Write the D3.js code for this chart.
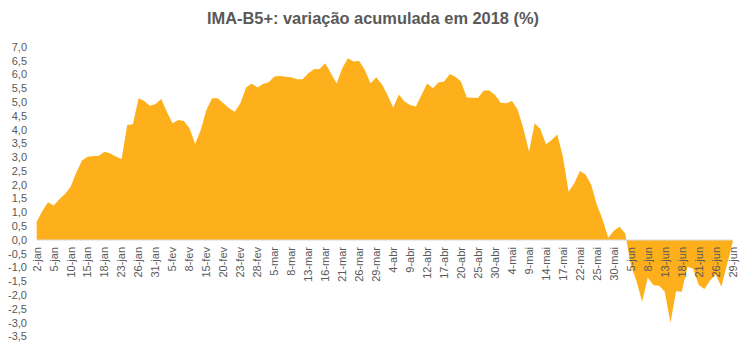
<!DOCTYPE html>
<html lang="pt">
<head>
<meta charset="UTF-8">
<title>IMA-B5+</title>
<script src="https://cdn.jsdelivr.net/npm/d3@7"></script>
<style>
  body { margin: 0; background: #fff; }
  text { font-family: "Liberation Sans", Arial, sans-serif; fill: #595959; }
</style>
</head>
<body>
<svg width="747" height="353"></svg>
<script>
// dias úteis de 2018 (jan-jun)
var dates = [
  '2-jan','3-jan','4-jan','5-jan','8-jan','9-jan','10-jan','11-jan','12-jan','15-jan','16-jan','17-jan','18-jan','19-jan','22-jan','23-jan','24-jan','25-jan','26-jan','29-jan','30-jan','31-jan',
  '1-fev','2-fev','5-fev','6-fev','7-fev','8-fev','9-fev','14-fev','15-fev','16-fev','19-fev','20-fev','21-fev','22-fev','23-fev','26-fev','27-fev','28-fev',
  '1-mar','2-mar','5-mar','6-mar','7-mar','8-mar','9-mar','12-mar','13-mar','14-mar','15-mar','16-mar','19-mar','20-mar','21-mar','22-mar','23-mar','26-mar','27-mar','28-mar','29-mar',
  '2-abr','3-abr','4-abr','5-abr','6-abr','9-abr','10-abr','11-abr','12-abr','13-abr','16-abr','17-abr','18-abr','19-abr','20-abr','23-abr','24-abr','25-abr','26-abr','27-abr','30-abr',
  '2-mai','3-mai','4-mai','7-mai','8-mai','9-mai','10-mai','11-mai','14-mai','15-mai','16-mai','17-mai','18-mai','21-mai','22-mai','23-mai','24-mai','25-mai','28-mai','29-mai','30-mai',
  '1-jun','4-jun','5-jun','6-jun','7-jun','8-jun','11-jun','12-jun','13-jun','14-jun','15-jun','18-jun','19-jun','20-jun','21-jun','22-jun','25-jun','26-jun','27-jun','28-jun','29-jun'
];

// variação acumulada (%)
var values = [
  0.66,1.05,1.37,1.25,1.48,1.67,1.93,2.45,2.88,3.02,3.05,3.06,3.20,3.14,3.03,2.93,4.17,4.20,5.14,5.04,4.87,4.93,
  5.11,4.65,4.23,4.35,4.32,4.05,3.48,4.00,4.72,5.14,5.14,4.96,4.78,4.65,4.96,5.53,5.68,5.53,
  5.66,5.72,5.93,5.95,5.92,5.90,5.83,5.83,6.05,6.19,6.20,6.41,6.05,5.68,6.23,6.59,6.47,6.49,6.17,5.68,5.90,
  5.65,5.26,4.80,5.28,5.02,4.90,4.84,5.26,5.68,5.50,5.71,5.75,6.02,5.92,5.74,5.17,5.16,5.16,5.42,5.42,5.26,
  4.98,4.96,5.04,4.72,4.05,3.20,4.23,4.03,3.47,3.63,3.83,3.02,1.75,2.06,2.50,2.38,2.00,1.27,0.75,0.08,0.34,
  0.48,0.24,-0.90,-1.50,-2.24,-1.36,-1.64,-1.66,-1.88,-3.00,-1.86,-1.88,-0.97,-1.04,-1.63,-1.78,-1.47,-1.25,-1.70,-0.90,-0.08
];

var yTicks = [-3.5,-3,-2.5,-2,-1.5,-1,-0.5,0,0.5,1,1.5,2,2.5,3,3.5,4,4.5,5,5.5,6,6.5,7];
var labelEvery = 3;

var svg = d3.select('svg');

var x = d3.scalePoint().domain(dates).range([36.7, 732.7]);
var y = d3.scaleLinear().domain([-3.5, 7]).range([336.5, 47]);

var data = dates.map(function(d, i) { return { date: d, v: values[i] }; });

// área
var area = d3.area()
  .x(function(d) { return x(d.date); })
  .y0(y(0))
  .y1(function(d) { return y(d.v); });

svg.append('path')
  .datum(data)
  .attr('d', area)
  .attr('fill', '#FDB01B');

// linha do zero
svg.append('line')
  .attr('x1', 36.7).attr('x2', 732.7)
  .attr('y1', y(0)).attr('y2', y(0))
  .attr('stroke', '#d9d9d9').attr('stroke-width', 1);

// eixo y
var fmt = function(v) { return d3.format('.1f')(v).replace('.', ',').replace('−', '-'); };
svg.append('g').selectAll('text')
  .data(yTicks)
  .enter().append('text')
  .attr('x', 27)
  .attr('y', function(d) { return y(d); })
  .attr('dy', '0.35em')
  .attr('text-anchor', 'end')
  .attr('font-size', 11)
  .text(fmt);

// eixo x (rótulos verticais)
svg.append('g').selectAll('text')
  .data(dates.filter(function(d, i) { return i % labelEvery === 0; }))
  .enter().append('text')
  .attr('transform', function(d) { return 'translate(' + x(d) + ',' + (y(0) + 7) + ') rotate(-90)'; })
  .attr('dy', '0.35em')
  .attr('text-anchor', 'end')
  .attr('font-size', 11)
  .text(function(d) { return d; });

// título
svg.append('text')
  .attr('x', 373).attr('y', 24)
  .attr('text-anchor', 'middle')
  .attr('font-size', 16.4)
  .attr('font-weight', 'bold')
  .text('IMA-B5+: variação acumulada em 2018 (%)');
</script>
</body>
</html>
